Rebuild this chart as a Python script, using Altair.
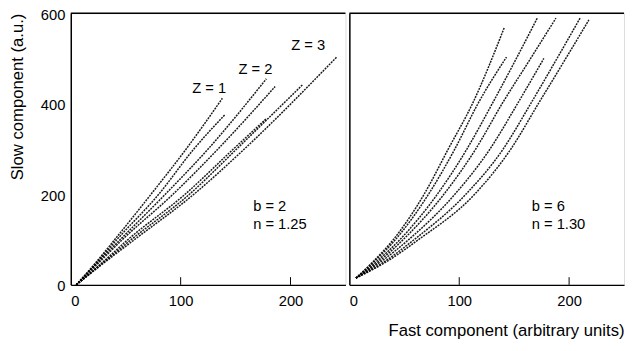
import altair as alt
import pandas as pd

# ---- data ----
# left panel (b = 2, n = 1.25): points along each curve
left_curves = {
    "L1": [(5, 0), (23, 50), (40, 100), (73, 200), (105, 300), (138, 412)],
    "L2": [(5, 0), (24, 50), (42, 100), (80, 200), (112, 300), (140, 375)],
    "L3": [(5, 0), (24.5, 50), (45, 100), (86, 200), (125, 300), (178, 455)],
    "L4": [(5, 0), (26, 50), (47, 100), (93, 200), (134, 300), (186, 438)],
    "L5": [(5, 0), (29, 50), (52, 100), (104, 200), (148, 300), (178, 367)],
    "L6": [(5, 0), (30, 50), (55, 100), (108, 200), (151, 300), (211, 442)],
    "L7": [(5, 0), (31, 50), (58, 100), (112, 200), (158, 300), (242, 503)],
}
# right panel (b = 6, n = 1.30)
right_curves = {
    "R1": [(6, 15), (21, 50), (40, 100), (68, 200), (90, 300), (112, 400), (141, 568)],
    "R2": [(6, 15), (22, 50), (42, 100), (72, 200), (96, 300), (117, 400), (143, 503)],
    "R3": [(6, 15), (24, 50), (46, 100), (80, 200), (107, 300), (130, 400), (152, 500), (171, 589)],
    "R4": [(6, 15), (26, 50), (49, 100), (86, 200), (115, 300), (139, 400), (165, 500), (188, 589)],
    "R5": [(6, 15), (28, 50), (54, 100), (96, 200), (128, 300), (153, 400), (177, 500)],
    "R6": [(6, 15), (31, 50), (59, 100), (106, 200), (140, 300), (165, 400), (189, 500), (210, 589)],
    "R7": [(6, 15), (33, 50), (63, 100), (114, 200), (147, 300), (172, 400), (197, 500), (218, 585)],
}

z_labels = ["Z = 1", "Z = 2", "Z = 3"]
z_x = [126, 168, 216]
z_y = [434, 477, 529]

left_params = ["b = 2", "n = 1.25"]
right_params = ["b = 6", "n = 1.30"]
param_x = 166
param_y = [175, 134]

x_ticks = [0, 100, 200]
y_ticks = [0, 200, 400, 600]
inner_ticks = [100, 200]

FONT = "Liberation Sans"


def curves_df(curves):
    rows = []
    for cid, pts in curves.items():
        for i, (x, y) in enumerate(pts):
            rows.append({"curve": cid, "i": i, "x": x, "y": y})
    return pd.DataFrame(rows)


xscale = alt.Scale(domain=[0, 250], nice=False, zero=False)
yscale = alt.Scale(domain=[0, 600], nice=False)


def panel(curves, params, with_y_axis, with_z, with_xtitle):
    df = curves_df(curves)
    x_axis = alt.Axis(
        values=x_ticks, tickSize=0, labelFontSize=15, labelFont=FONT, labelColor="black",
        labelPadding=9, domainColor="black", domainWidth=1.5, grid=False,
        title="Fast component (arbitrary units)" if with_xtitle else None,
        titleFont=FONT, titleFontSize=17, titleFontWeight="normal", titleColor="black",
        titleAnchor="end", titlePadding=15,
    )
    if with_y_axis:
        y_axis = alt.Axis(
            values=y_ticks, tickSize=0, labelFontSize=15, labelFont=FONT, labelColor="black",
            labelPadding=6, labelOffset=1, domainColor="black", domainWidth=1.5, grid=False,
            title="Slow component (a.u.)", titleFont=FONT, titleFontSize=17,
            titleFontWeight="normal", titleColor="black", titleAnchor="end", titlePadding=14,
        )
    else:
        y_axis = alt.Axis(labels=False, ticks=False, title=None, grid=False,
                          domainColor="black", domainWidth=1.5)

    lines = alt.Chart(df).mark_line(
        color="black", strokeWidth=1.5, strokeDash=[2, 1], opacity=0.9,
        interpolate="monotone"
    ).encode(
        x=alt.X("x:Q", scale=xscale, axis=x_axis),
        y=alt.Y("y:Q", scale=yscale, axis=y_axis),
        detail="curve:N",
        order="i:Q",
    )

    top = alt.Chart(pd.DataFrame({"v": [600]})).mark_rule(
        color="black", strokeWidth=1.5
    ).encode(y=alt.Y("v:Q", scale=yscale))

    tick_df = pd.DataFrame({"t": inner_ticks, "y0": [0] * len(inner_ticks), "y1": [17] * len(inner_ticks)})
    ticks = alt.Chart(tick_df).mark_rule(color="black", strokeWidth=1).encode(
        x=alt.X("t:Q", scale=xscale), y=alt.Y("y0:Q", scale=yscale), y2="y1:Q"
    )

    p_df = pd.DataFrame({"text": params, "x": [param_x] * len(params), "y": param_y})
    ptext = alt.Chart(p_df).mark_text(
        align="left", baseline="middle", font=FONT, fontSize=15, color="black"
    ).encode(x=alt.X("x:Q", scale=xscale), y=alt.Y("y:Q", scale=yscale), text="text:N")

    layers = [lines, top, ticks, ptext]
    if with_z:
        z_df = pd.DataFrame({"text": z_labels, "x": z_x, "y": z_y})
        ztext = alt.Chart(z_df).mark_text(
            align="center", baseline="middle", font=FONT, fontSize=15, color="black"
        ).encode(x=alt.X("x:Q", scale=xscale), y=alt.Y("y:Q", scale=yscale), text="text:N")
        layers.append(ztext)

    return alt.layer(*layers).properties(width=280, height=277)


left = panel(left_curves, left_params, True, True, False)
right = panel(right_curves, right_params, False, False, True)

chart = alt.hconcat(left, right, spacing=0).properties(
    padding={"left": 0, "top": -5, "right": 0, "bottom": 0}
).configure_view(stroke=None).configure(background="white")

chart.save("out.html", embed_options={"renderer": "svg", "actions": False})
